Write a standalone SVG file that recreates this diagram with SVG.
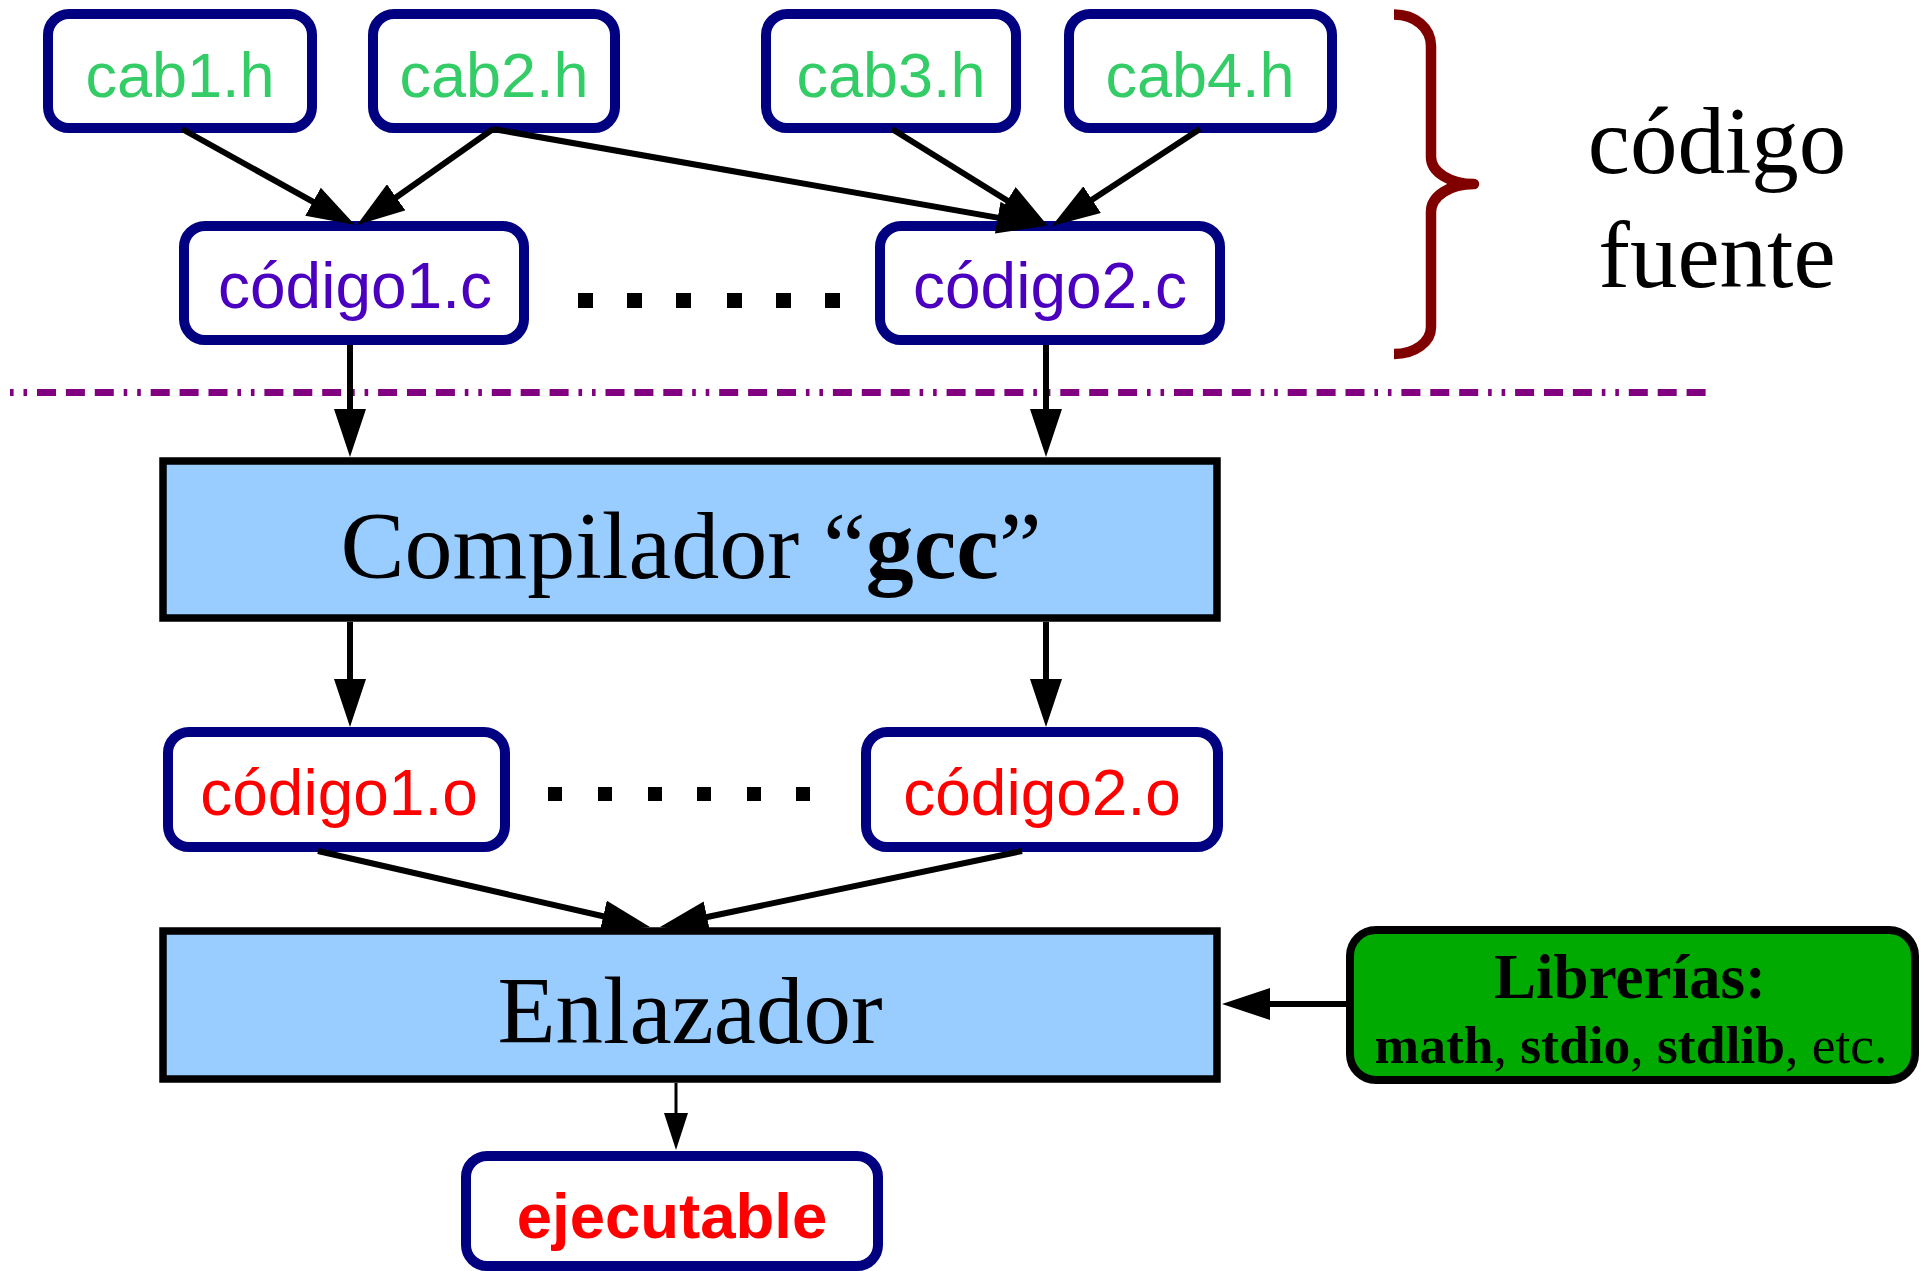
<svg xmlns="http://www.w3.org/2000/svg" width="1931" height="1271" viewBox="0 0 1931 1271">
<style>
.file{fill:#ffffff;stroke:#000080;stroke-width:10}
.proc{fill:#99ccff;stroke:#000000;stroke-width:7.5}
.h{font-family:"Liberation Sans",Arial,sans-serif;font-size:63px;fill:#33cc66;text-anchor:middle}
.c{font-family:"Liberation Sans",Arial,sans-serif;font-size:64px;fill:#4b00bf;text-anchor:middle}
.o{font-family:"Liberation Sans",Arial,sans-serif;font-size:64px;fill:#ff0000;text-anchor:middle}
.serif{font-family:"Liberation Serif","Times New Roman",serif;fill:#000000;text-anchor:middle}
.edge{fill:none;stroke:#000000;stroke-width:6}
.dot{fill:#000000}
</style>
<defs>
<marker id="ah" markerUnits="userSpaceOnUse" markerWidth="48" markerHeight="32" refX="28" refY="16" orient="auto" viewBox="0 0 48 32">
<path d="M0,0 L48,16 L0,32 z" fill="#000000"/>
</marker>
<marker id="ahs" markerUnits="userSpaceOnUse" markerWidth="37" markerHeight="24" refX="27" refY="12" orient="auto" viewBox="0 0 37 24">
<path d="M0,0 L37,12 L0,24 z" fill="#000000"/>
</marker>
</defs>
<rect width="1931" height="1271" fill="#ffffff"/>

<g id="cab1">
<rect class="file" x="48" y="14" width="264" height="114" rx="21"/>
<text class="h" x="180" y="97">cab1.h</text>
</g>
<g id="cab2">
<rect class="file" x="373" y="14" width="242" height="114" rx="21"/>
<text class="h" x="494" y="97">cab2.h</text>
</g>
<g id="cab3">
<rect class="file" x="766" y="14" width="250" height="114" rx="21"/>
<text class="h" x="891" y="97">cab3.h</text>
</g>
<g id="cab4">
<rect class="file" x="1069" y="14" width="263" height="114" rx="21"/>
<text class="h" x="1200" y="97">cab4.h</text>
</g>
<g id="codigo1c">
<rect class="file" x="184" y="226" width="340" height="114" rx="21"/>
<text class="c" x="355" y="308">código1.c</text>
</g>
<g id="codigo2c">
<rect class="file" x="880" y="226" width="340" height="114" rx="21"/>
<text class="c" x="1050" y="308">código2.c</text>
</g>
<g id="dots1">
<rect class="dot" x="578" y="293" width="15" height="15"/>
<rect class="dot" x="627" y="293" width="15" height="15"/>
<rect class="dot" x="676" y="293" width="15" height="15"/>
<rect class="dot" x="727" y="293" width="15" height="15"/>
<rect class="dot" x="776" y="293" width="15" height="15"/>
<rect class="dot" x="825" y="293" width="15" height="15"/>
</g>
<g id="brace">
<path d="M1394,14.5 C1415,14.5 1431,28 1431,46 L1431,157 C1431,172 1450,184 1474,184 C1450,184 1431,196 1431,212 L1431,327 C1431,342 1415,354 1394,354" fill="none" stroke="#800000" stroke-width="10.5" stroke-linejoin="round"/>
<text class="serif" x="1717" y="173" font-size="95">código</text>
<text class="serif" x="1717" y="287" font-size="95">fuente</text>
</g>
<g id="separator">
<line x1="10" y1="392.5" x2="1711" y2="392.5" stroke="#800080" stroke-width="7" stroke-dasharray="3.6 9.9 3.6 9.9 19 9.9 19 9.9 19 9.9"/>
</g>
<g id="compilador">
<rect class="proc" x="163" y="461" width="1054" height="157"/>
<text class="serif" x="691" y="578" font-size="96">Compilador “<tspan font-weight="bold">gcc</tspan>”</text>
</g>
<g id="codigo1o">
<rect class="file" x="168" y="732" width="337" height="115" rx="21"/>
<text class="o" x="339" y="815">código1.o</text>
</g>
<g id="codigo2o">
<rect class="file" x="866" y="732" width="352" height="115" rx="21"/>
<text class="o" x="1042" y="815">código2.o</text>
</g>
<g id="dots2">
<rect class="dot" x="548" y="787" width="14" height="14"/>
<rect class="dot" x="598" y="787" width="14" height="14"/>
<rect class="dot" x="648" y="787" width="14" height="14"/>
<rect class="dot" x="697" y="787" width="14" height="14"/>
<rect class="dot" x="747" y="787" width="14" height="14"/>
<rect class="dot" x="796" y="787" width="14" height="14"/>
</g>
<g id="enlazador">
<rect class="proc" x="163" y="931" width="1054" height="148"/>
<text class="serif" x="690" y="1043" font-size="95">Enlazador</text>
</g>
<g id="librerias">
<rect x="1350" y="930" width="565" height="150" rx="26" fill="#00aa00" stroke="#000000" stroke-width="8"/>
<text class="serif" x="1630" y="998" font-size="63" font-weight="bold">Librerías:</text>
<text class="serif" x="1631" y="1063" font-size="53.5"><tspan font-weight="bold">math</tspan>, <tspan font-weight="bold">stdio</tspan>, <tspan font-weight="bold">stdlib</tspan>, etc.</text>
</g>
<g id="ejecutable">
<rect class="file" x="466" y="1156" width="412" height="110" rx="21"/>
<text x="672" y="1238" font-family="Liberation Sans, Arial, sans-serif" font-size="63.5" font-weight="bold" fill="#ff0000" text-anchor="middle">ejecutable</text>
</g>

<g id="connectors">
<line class="edge" x1="182" y1="129" x2="337.5" y2="215.3" marker-end="url(#ah)"/>
<line class="edge" x1="493" y1="129" x2="373.3" y2="213.5" marker-end="url(#ah)"/>
<line class="edge" x1="493" y1="129" x2="1025.3" y2="222.5" marker-end="url(#ah)"/>
<line class="edge" x1="892" y1="129" x2="1031" y2="215.4" marker-end="url(#ah)"/>
<line class="edge" x1="1200" y1="129" x2="1068.7" y2="215" marker-end="url(#ah)"/>
<line class="edge" x1="350" y1="345" x2="350" y2="437" marker-end="url(#ah)"/>
<line class="edge" x1="1046" y1="345" x2="1046" y2="437" marker-end="url(#ah)"/>
<line class="edge" x1="350" y1="622" x2="350" y2="707" marker-end="url(#ah)"/>
<line class="edge" x1="1046" y1="622" x2="1046" y2="707" marker-end="url(#ah)"/>
<line class="edge" x1="318" y1="851" x2="630.5" y2="922.5" marker-end="url(#ah)"/>
<line class="edge" x1="1022" y1="851" x2="679.6" y2="922.8" marker-end="url(#ah)"/>
<line class="edge" x1="1346" y1="1004" x2="1242" y2="1004" marker-end="url(#ah)"/>
<line x1="676" y1="1083" x2="676" y2="1140" stroke="#000000" stroke-width="3" marker-end="url(#ahs)"/>
</g>
</svg>
